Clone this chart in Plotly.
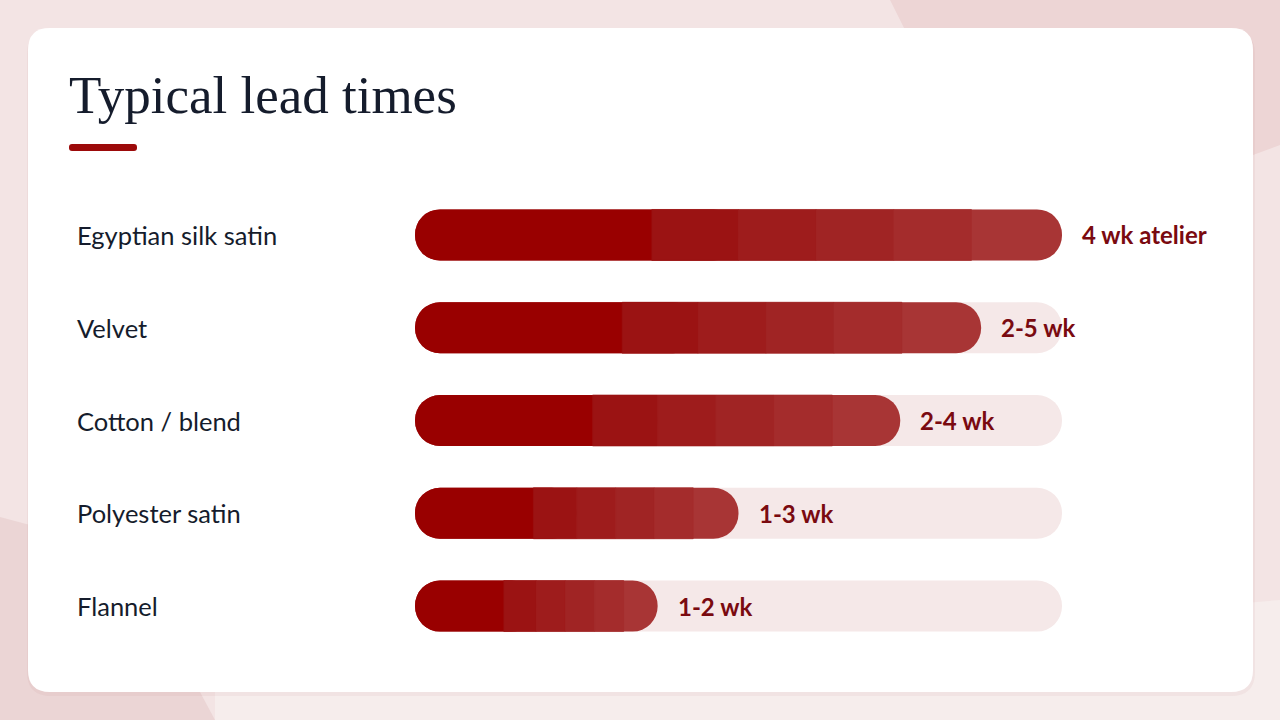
import plotly.graph_objects as go

# Data
FABRICS = ["Egyptian silk satin", "Velvet", "Cotton / blend", "Polyester satin", "Flannel"]
LEAD_SCORE = [8, 7, 6, 4, 3]
LEAD_LABELS = ["4 wk atelier", "2-5 wk", "2-4 wk", "1-3 wk", "1-2 wk"]
TRACK_MAX = 8

# Styling
W, H = 1280, 720
BG = "#F3E4E4"
CARD = "#FFFFFF"
TRACK = "#F5E8E8"
INK = "#151C2C"
VALUE_INK = "#7A0A10"
SERIF = "Liberation Serif, DejaVu Serif, serif"
SANS = "Lato, Noto Sans, sans-serif"

# gradient bands along each bar (fraction of the bar length) and their colours
BANDS = [0.0, 0.366, 0.5, 0.62, 0.74, 0.86, 1.0]
BAND_COLORS = ["#990000", "#9B1313", "#9E1C1C", "#A02424", "#A42C2C", "#A83535"]


def px(x, y):
    """pixel position -> paper coords"""
    return x / W, 1 - y / H


def rounded_rect(x0, y0, x1, y1, r):
    def p(x, y):
        a, b = px(x, y)
        return f"{a:.5f},{b:.5f}"
    return " ".join([
        f"M {p(x0 + r, y0)}", f"L {p(x1 - r, y0)}",
        f"Q {p(x1, y0)} {p(x1, y0 + r)}", f"L {p(x1, y1 - r)}",
        f"Q {p(x1, y1)} {p(x1 - r, y1)}", f"L {p(x0 + r, y1)}",
        f"Q {p(x0, y1)} {p(x0, y1 - r)}", f"L {p(x0, y0 + r)}",
        f"Q {p(x0, y0)} {p(x0 + r, y0)}", "Z",
    ])


def poly(points):
    parts = []
    for i, (x, y) in enumerate(points):
        a, b = px(x, y)
        parts.append(("M " if i == 0 else "L ") + f"{a:.5f},{b:.5f}")
    return " ".join(parts) + " Z"


fig = go.Figure()

bar_kw = dict(orientation="h", width=0.55, hoverinfo="skip", showlegend=False)
zeros = [0] * len(FABRICS)  # explicit base -> plotly rounds both ends

# background track
fig.add_trace(go.Bar(y=FABRICS, x=[TRACK_MAX] * len(FABRICS), base=zeros,
                     marker=dict(color=TRACK, cornerradius="50%", line_width=0), **bar_kw))

# full value bar in the end colour (gives the rounded right end)
fig.add_trace(go.Bar(y=FABRICS, x=LEAD_SCORE, base=zeros,
                     marker=dict(color=BAND_COLORS[-1], cornerradius="50%", line_width=0),
                     **bar_kw))
# dark start with the rounded left end
fig.add_trace(go.Bar(y=FABRICS, x=[v * BANDS[2] for v in LEAD_SCORE], base=zeros,
                     marker=dict(color=BAND_COLORS[0], cornerradius="50%", line_width=0),
                     **bar_kw))
# square middle bands to mimic the gradient
for k in range(1, len(BAND_COLORS) - 1):
    f0, f1 = BANDS[k], BANDS[k + 1]
    fig.add_trace(go.Bar(y=FABRICS, x=[v * (f1 - f0) for v in LEAD_SCORE],
                         base=[v * f0 for v in LEAD_SCORE],
                         marker=dict(color=BAND_COLORS[k], cornerradius=0,
                                     line=dict(color=BAND_COLORS[k], width=0.6)),
                         **bar_kw))

annotations = [dict(
    text="Typical lead times", xref="paper", yref="paper",
    x=67 / W, y=1 - 95 / H, xanchor="left", yanchor="middle", showarrow=False,
    font=dict(family=SERIF, size=53, color=INK),
)]
for name, v, lab in zip(FABRICS, LEAD_SCORE, LEAD_LABELS):
    annotations.append(dict(
        text=name, xref="paper", yref="y", x=75 / W, y=name,
        xanchor="left", yanchor="middle", showarrow=False,
        font=dict(family=SANS, size=25.5, color=INK),
    ))
    annotations.append(dict(
        text=f"<b>{lab}</b>", xref="x", yref="y", x=v, y=name, xshift=18,
        xanchor="left", yanchor="middle", showarrow=False,
        font=dict(family=SANS, size=24, color=VALUE_INK),
    ))

shapes = [
    # decorative background blobs
    dict(type="path", xref="paper", yref="paper", layer="below", line_width=0,
         fillcolor="#EDD5D5",
         path=poly([(890, 0), (1280, 0), (1280, 145), (1253, 155), (1000, 120), (905, 30)])),
    dict(type="path", xref="paper", yref="paper", layer="below", line_width=0,
         fillcolor="#F6EDEC",
         path=poly([(215, 692), (1280, 600), (1280, 720), (215, 720)])),
    dict(type="path", xref="paper", yref="paper", layer="below", line_width=0,
         fillcolor="#EBD5D5",
         path=poly([(0, 517), (30, 525), (200, 692), (215, 720), (0, 720)])),
    # card shadow + card
    dict(type="path", xref="paper", yref="paper", layer="below", line_width=0,
         fillcolor="rgba(150,60,60,0.05)", path=rounded_rect(27, 30, 1255, 696, 24)),
    dict(type="path", xref="paper", yref="paper", layer="below", line_width=0,
         fillcolor=CARD, path=rounded_rect(28, 28, 1253, 692, 22)),
    # title accent
    dict(type="path", xref="paper", yref="paper", line_width=0,
         fillcolor="#9C0A0A", path=rounded_rect(69, 144, 137, 151, 3)),
]

x0, _ = px(415, 0)
x1, _ = px(1062, 0)
_, ytop = px(0, 188.6)
_, ybot = px(0, 652.4)

fig.update_layout(
    width=W, height=H,
    paper_bgcolor=BG, plot_bgcolor="rgba(0,0,0,0)",
    margin=dict(l=0, r=0, t=0, b=0),
    barmode="overlay",
    xaxis=dict(domain=[x0, x1], range=[0, TRACK_MAX], visible=False, fixedrange=True),
    yaxis=dict(domain=[ybot, ytop], categoryorder="array", categoryarray=FABRICS,
               range=[len(FABRICS) - 0.5, -0.5], visible=False, fixedrange=True),
    annotations=annotations,
    shapes=shapes,
)

fig.write_html("out.html", config={"displayModeBar": False},
               post_script="document.body.style.margin='0';document.body.style.overflow='hidden';")
